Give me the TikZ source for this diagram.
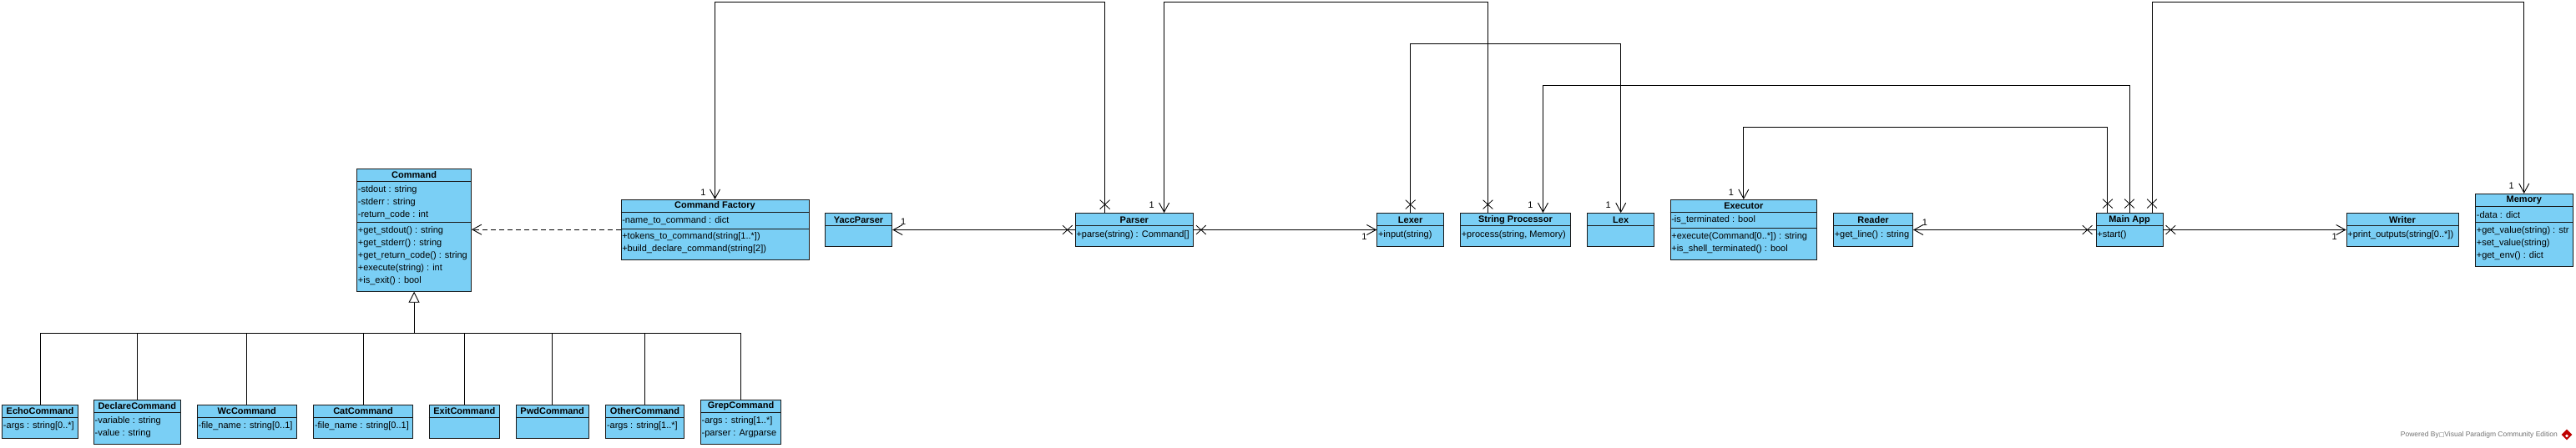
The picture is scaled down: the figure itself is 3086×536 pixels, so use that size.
\documentclass[tikz,border=0pt]{standalone}
\usepackage{fontspec}
\setmainfont{Liberation Sans}
\newfontfamily\dejavu{DejaVu Sans}
\usetikzlibrary{arrows.meta,shapes.misc,shapes.geometric}
\definecolor{clsfill}{RGB}{122,207,245}
\definecolor{clsline}{RGB}{25,25,25}
\newcommand\clsdiv[2]{\draw[draw=clsline,line width=0.8pt] (#1.west |- 0,#2) -- (#1.east |- 0,#2);}
\newcommand\clsrow[3]{\node[row] at (#1.west |- 0,#2) {#3};}
\newcommand\clstitle[3]{\node[ttl] at (#1.north |- 0,#2) {#3};}
\newcommand\oneclass[5]{%
  \node[cls, minimum width=#3pt, minimum height=40pt] (#1) at (#2,275.5) {};
  \clstitle{#1}{263.3}{#4}
  \clsdiv{#1}{270.7}
  \clsrow{#1}{282}{#5}}
\begin{document}
\begin{tikzpicture}[x=1pt,y=-1pt,
  every node/.style={font=\fontsize{11}{13}\selectfont},
  cls/.style={draw=clsline, fill=clsfill, line width=0.8pt, inner sep=0, rectangle},
  ttl/.style={font=\bfseries\fontsize{11}{13}\selectfont, inner sep=0},
  row/.style={anchor=west, inner sep=0, xshift=1.5pt},
  assoc/.style={draw=black, line width=0.9pt},
  nav/.style={assoc, -{Straight Barb[length=11pt,width=12pt]}},
  gen/.style={assoc, -{Triangle[open,length=13pt,width=13pt,fill=white]}},
  dep/.style={assoc, dash pattern=on 6pt off 4pt, -{Straight Barb[length=11pt,width=12pt]}},
  xmark/.style={cross out, draw=black, line width=0.8pt, minimum width=11pt, minimum height=10pt, inner sep=0},
  mult/.style={inner sep=0, font=\fontsize{11}{13}\selectfont}]
\fill[white] (0,0) rectangle (3086,536);
\useasboundingbox (0,0) rectangle (3086,536);

% ---------- Command ----------
\node[cls, minimum width=137pt, minimum height=147pt] (cmd) at (496.1,275.8) {};
\clstitle{cmd}{210}{Command}
\clsdiv{cmd}{217.7}
\clsrow{cmd}{227.3}{-stdout : string}
\clsrow{cmd}{242.3}{-stderr : string}
\clsrow{cmd}{257.3}{-return\_code : int}
\clsdiv{cmd}{266.7}
\clsrow{cmd}{276.7}{+get\_stdout() : string}
\clsrow{cmd}{291.7}{+get\_stderr() : string}
\clsrow{cmd}{306.7}{+get\_return\_code() : string}
\clsrow{cmd}{321.7}{+execute(string) : int}
\clsrow{cmd}{336.7}{+is\_exit() : bool}

% ---------- Command Factory ----------
\node[cls, minimum width=225pt, minimum height=71.7pt] (cf) at (856.5,275.15) {};
\clstitle{cf}{247}{Command Factory}
\clsdiv{cf}{254.7}
\clsrow{cf}{264.3}{-name\_to\_command : dict}
\clsdiv{cf}{274}
\clsrow{cf}{284}{+tokens\_to\_command(string[1..*])}
\clsrow{cf}{299}{+build\_declare\_command(string[2])}

% ---------- Executor ----------
\node[cls, minimum width=175.6pt, minimum height=71.7pt] (exec) at (2088.8,275.15) {};
\clstitle{exec}{247}{Executor}
\clsdiv{exec}{254.5}
\clsrow{exec}{264}{-is\_terminated : bool}
\clsdiv{exec}{273.5}
\clsrow{exec}{283.5}{+execute(Command[0..*]) : string}
\clsrow{exec}{298.5}{+is\_shell\_terminated() : bool}

% ---------- Memory ----------
\node[cls, minimum width=116.5pt, minimum height=86.7pt] (mem) at (3023.75,275.65) {};
\clstitle{mem}{240}{Memory}
\clsdiv{mem}{247.7}
\clsrow{mem}{257.5}{-data : dict}
\clsdiv{mem}{266.5}
\clsrow{mem}{276.7}{+get\_value(string) : str}
\clsrow{mem}{291.7}{+set\_value(string)}
\clsrow{mem}{306.7}{+get\_env() : dict}

% ---------- one-row classes ----------
\oneclass{yacc}{1028.5}{80.6}{YaccParser}{}
\oneclass{parser}{1358.8}{141.2}{Parser}{+parse(string) : Command[]}
\oneclass{lexer}{1689.65}{79.9}{Lexer}{+input(string)}
\oneclass{sp}{1815.45}{131.9}{String Processor}{+process(string, Memory)}
\oneclass{lex}{1941.7}{80}{Lex}{}
\oneclass{reader}{2244}{95.1}{Reader}{+get\_line() : string}
\oneclass{main}{2551}{80}{Main App}{+start()}
\oneclass{writer}{2878}{134}{Writer}{+print\_outputs(string[0..*])}

% ---------- command subclasses ----------
\node[cls, minimum width=90.6pt, minimum height=40.3pt] (echo) at (48,505.15) {};
\clstitle{echo}{493}{EchoCommand}
\clsdiv{echo}{500.7}
\clsrow{echo}{511}{-args : string[0..*]}

\node[cls, minimum width=104pt, minimum height=53.3pt] (declare) at (164.3,505.65) {};
\clstitle{declare}{487}{DeclareCommand}
\clsdiv{declare}{494.3}
\clsrow{declare}{505}{-variable : string}
\clsrow{declare}{519.5}{-value : string}

\node[cls, minimum width=118.7pt, minimum height=40.3pt] (wc) at (295.65,505.15) {};
\clstitle{wc}{493}{WcCommand}
\clsdiv{wc}{500.7}
\clsrow{wc}{511}{-file\_name : string[0..1]}

\node[cls, minimum width=118.6pt, minimum height=40.3pt] (cat) at (435,505.15) {};
\clstitle{cat}{493}{CatCommand}
\clsdiv{cat}{500.7}
\clsrow{cat}{511}{-file\_name : string[0..1]}

\node[cls, minimum width=84.7pt, minimum height=40.3pt] (exit) at (556.35,505.15) {};
\clstitle{exit}{493}{ExitCommand}
\clsdiv{exit}{500.7}

\node[cls, minimum width=86.7pt, minimum height=40.3pt] (pwd) at (661.65,505.15) {};
\clstitle{pwd}{493}{PwdCommand}
\clsdiv{pwd}{500.7}

\node[cls, minimum width=93.6pt, minimum height=40.3pt] (other) at (772.5,505.15) {};
\clstitle{other}{493}{OtherCommand}
\clsdiv{other}{500.7}
\clsrow{other}{511}{-args : string[1..*]}

\node[cls, minimum width=96.4pt, minimum height=53.3pt] (grep) at (887.5,505.65) {};
\clstitle{grep}{487}{GrepCommand}
\clsdiv{grep}{494.3}
\clsrow{grep}{505}{-args : string[1..*]}
\clsrow{grep}{519.5}{-parser : Argparse}

% ---------- generalization ----------
\coordinate (gbar) at (0,399.3);
\foreach \c in {echo,declare,wc,cat,exit,pwd,other,grep}
  \draw[assoc] (\c.north) |- (gbar -| cmd.south);
\draw[gen] (gbar -| cmd.south) -- (cmd.south);

% ---------- dependency ----------
\draw[dep] (cf.west) -- (cf.west -| cmd.east);

% ---------- routing levels ----------
\coordinate (r0) at (0,2.7);
\coordinate (r1) at (0,52.3);
\coordinate (r2) at (0,102.3);
\coordinate (r3) at (0,152.3);
\coordinate (rm) at (0,2.3);
\coordinate (pX) at ([xshift=-35.2pt]parser.north);
\coordinate (pA) at ([xshift=35.8pt]parser.north);
\coordinate (sX) at ([xshift=-33pt]sp.north);
\coordinate (sA) at ([xshift=33pt]sp.north);
\coordinate (mX1) at ([xshift=-26.1pt]main.north);
\coordinate (mX3) at ([xshift=27pt]main.north);

% Parser -> Command Factory
\draw[nav] (pX) |- (r0 -| cf.north) -- (cf.north);
\node[xmark] at ([yshift=10pt]pX) {};
\node[mult] at ([xshift=-14pt,yshift=8pt]cf.north) {1};

% String Processor -> Parser
\draw[nav] (sX) |- (r0 -| pA) -- (pA);
\node[xmark] at ([yshift=10pt]sX) {};
\node[mult] at ([xshift=-15pt,yshift=9pt]pA) {1};

% Lexer -> Lex
\draw[nav] (lexer.north) |- (r1 -| lex.north) -- (lex.north);
\node[xmark] at ([yshift=10pt]lexer.north) {};
\node[mult] at ([xshift=-15pt,yshift=9pt]lex.north) {1};

% Main App -> String Processor
\draw[nav] (main.north) |- (r2 -| sA) -- (sA);
\node[xmark] at ([yshift=11pt]main.north) {};
\node[mult] at ([xshift=-15pt,yshift=9pt]sA) {1};

% Main App -> Executor
\draw[nav] (mX1) |- (r3 -| exec.north) -- (exec.north);
\node[xmark] at ([yshift=11pt]mX1) {};
\node[mult] at ([xshift=-15pt,yshift=8pt]exec.north) {1};

% Main App -> Memory
\draw[nav] (mX3) |- (rm -| mem.north) -- (mem.north);
\node[xmark] at ([yshift=11pt]mX3) {};
\node[mult] at ([xshift=-15pt,yshift=9pt]mem.north) {1};

% Parser -> YaccParser
\draw[nav] (parser.west) -- (yacc.east);
\node[xmark] at ([xshift=-9pt]parser.west) {};
\node[mult] at ([xshift=13pt,yshift=10pt]yacc.east) {1};

% Parser -> Lexer
\draw[nav] (parser.east) -- (lexer.west);
\node[xmark] at ([xshift=9pt]parser.east) {};
\node[mult] at ([xshift=-15pt,yshift=-8pt]lexer.west) {1};

% Main App -> Reader
\draw[nav] (main.west) -- (reader.east);
\node[xmark] at ([xshift=-10pt]main.west) {};
\node[mult] at ([xshift=14pt,yshift=9pt]reader.east) {1};

% Main App -> Writer
\draw[nav] (main.east) -- (writer.west);
\node[xmark] at ([xshift=9pt]main.east) {};
\node[mult] at ([xshift=-14pt,yshift=-8pt]writer.west) {1};

% ---------- watermark ----------
\node[anchor=east, inner sep=0, text=black!55, font=\fontsize{8.5}{10}\selectfont] (wm) at (3064,521)
  {Powered By{\dejavu\fontsize{7}{8}\selectfont □}Visual Paradigm Community Edition};
\node[diamond, fill=red!75!black, minimum size=13pt, inner sep=0] (logo) at (3075,521) {};
\node[diamond, fill=white, minimum size=4pt, inner sep=0] at ([yshift=-1.5pt]logo.center) {};
\end{tikzpicture}
\end{document}
